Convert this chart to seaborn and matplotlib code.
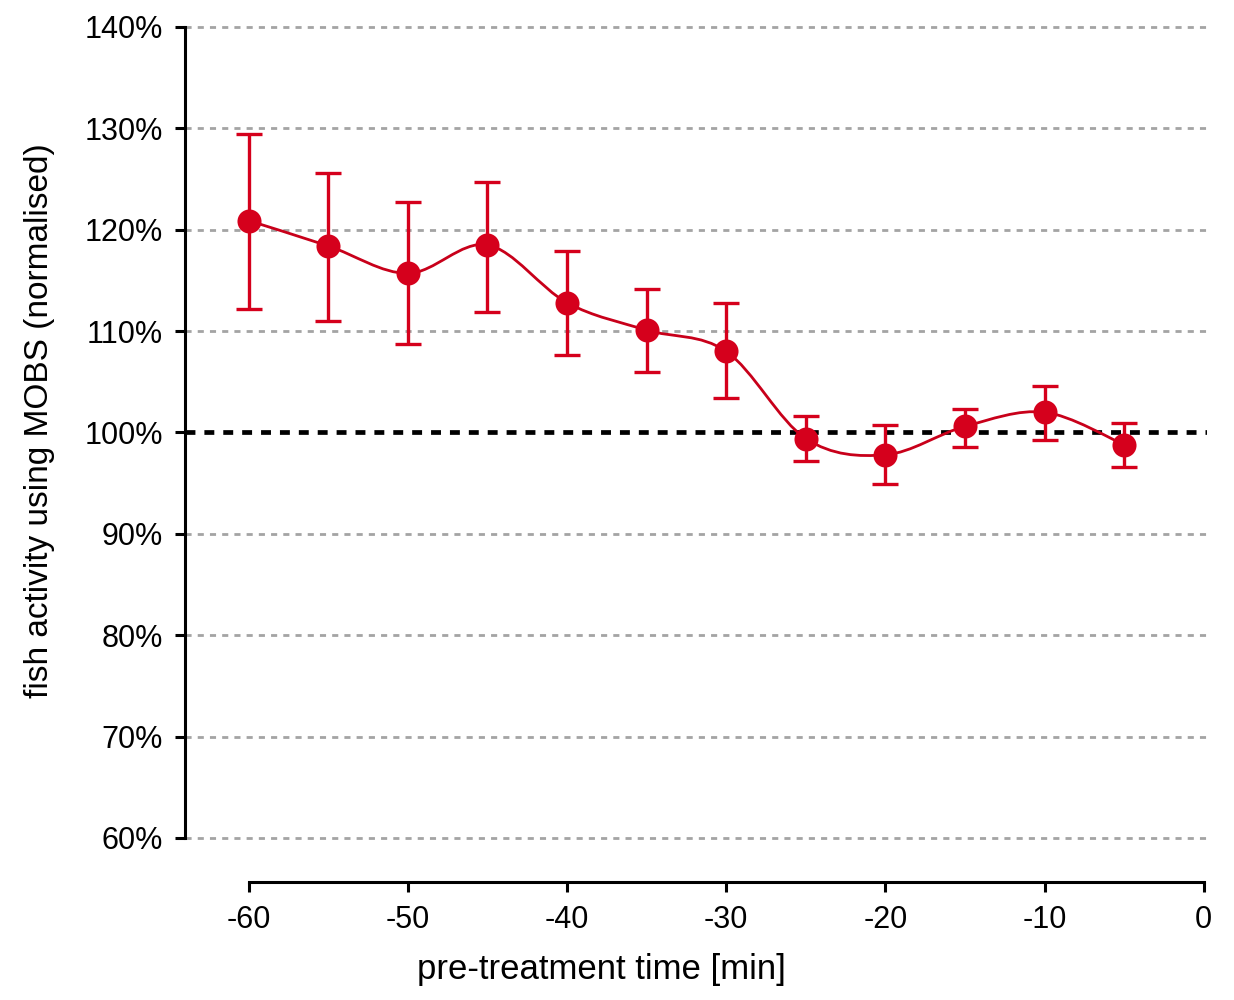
import numpy as np
import matplotlib
matplotlib.use("Agg")
import matplotlib.pyplot as plt
import seaborn as sns
import pandas as pd
from matplotlib.path import Path
from matplotlib.patches import PathPatch
from matplotlib.ticker import FuncFormatter

# data (percent of baseline)
time_min = [-60, -55, -50, -45, -40, -35, -30, -25, -20, -15, -10, -5]
activity = [120.9, 118.4, 115.7, 118.5, 112.8, 110.1, 108.0, 99.4, 97.8, 100.6, 102.0, 98.8]
err_upper = [129.4, 125.6, 122.7, 124.7, 117.9, 114.2, 112.8, 101.6, 100.7, 102.3, 104.6, 100.9]
err_lower = [112.2, 111.0, 108.7, 111.9, 107.6, 106.0, 103.4, 97.2, 94.9, 98.6, 99.3, 96.6]

y_ticks = [60, 70, 80, 90, 100, 110, 120, 130, 140]
x_ticks = [-60, -50, -40, -30, -20, -10, 0]
baseline = 100

RED = "#d5001c"


def catmull_rom_path(xs, ys):
    # smooth curve through the points, as cubic Bezier segments
    pts = np.column_stack([xs, ys]).astype(float)
    verts = [pts[0]]
    codes = [Path.MOVETO]
    n = len(pts)
    for i in range(n - 1):
        p0 = pts[i - 1] if i > 0 else pts[i]
        p1 = pts[i]
        p2 = pts[i + 1]
        p3 = pts[i + 2] if i + 2 < n else pts[i + 1]
        c1 = p1 + (p2 - p0) / 6.0
        c2 = p2 - (p3 - p1) / 6.0
        verts += [c1, c2, p2]
        codes += [Path.CURVE4] * 3
    return Path(verts, codes)


def main():
    sns.set_theme(style="ticks")
    plt.rcParams["font.family"] = ["Liberation Sans", "DejaVu Sans"]
    plt.rcParams["axes.unicode_minus"] = False
    plt.rcParams["text.color"] = "black"
    plt.rcParams["axes.labelcolor"] = "black"

    df = pd.DataFrame({"time": time_min, "activity": activity,
                       "upper": err_upper, "lower": err_lower})

    fig = plt.figure(figsize=(12.34, 10), dpi=100)
    ax = fig.add_axes([0.150, 0.162, 0.828, 0.811])

    # grid lines
    for yv in y_ticks:
        if yv == baseline:
            continue
        ax.axhline(yv, color="#a4a4a4", lw=2.0, ls=(0, (2.2, 2.2)),
                   zorder=0, clip_on=False)
    ax.axhline(baseline, color="black", lw=3.4, ls=(0, (2.1, 1.9)), zorder=1)

    # smooth line
    ax.add_patch(PathPatch(catmull_rom_path(df["time"], df["activity"]),
                           fill=False, edgecolor="#c8001a", lw=2.0, zorder=2))

    # error bars
    yerr = np.vstack([df["activity"] - df["lower"], df["upper"] - df["activity"]])
    ax.errorbar(df["time"], df["activity"], yerr=yerr, fmt="none",
                ecolor=RED, elinewidth=2.4, capsize=9.5, capthick=2.4, zorder=3)

    sns.scatterplot(data=df, x="time", y="activity", ax=ax, color=RED,
                    s=300, edgecolor=RED, linewidth=0, zorder=4)

    ax.set_xlim(-64, 0.2)
    ax.set_ylim(60, 140)
    ax.set_xticks(x_ticks)
    ax.set_yticks(y_ticks)
    ax.yaxis.set_major_formatter(FuncFormatter(lambda v, p: f"{v:.0f}%"))

    sns.despine(ax=ax, top=True, right=True)
    ax.spines["bottom"].set_position(("outward", 31.5))
    ax.spines["bottom"].set_bounds(-60, 0)
    ax.spines["left"].set_bounds(60, 140)
    for s in ["left", "bottom"]:
        ax.spines[s].set_linewidth(2.2)
        ax.spines[s].set_color("black")

    ax.tick_params(axis="both", direction="out", length=7, width=2.2,
                   labelsize=22, colors="black")
    ax.tick_params(axis="y", pad=9)
    ax.tick_params(axis="x", pad=10)

    ax.set_xlabel("pre-treatment time [min]", fontsize=25)
    ax.set_ylabel("fish activity using MOBS (normalised)", fontsize=24)
    ax.xaxis.set_label_coords(0.407, -0.142)
    ax.yaxis.set_label_coords(-0.127, 0.515)

    ax.set_facecolor("white")
    fig.savefig("out.png", dpi=100, facecolor="white")


if __name__ == "__main__":
    main()
